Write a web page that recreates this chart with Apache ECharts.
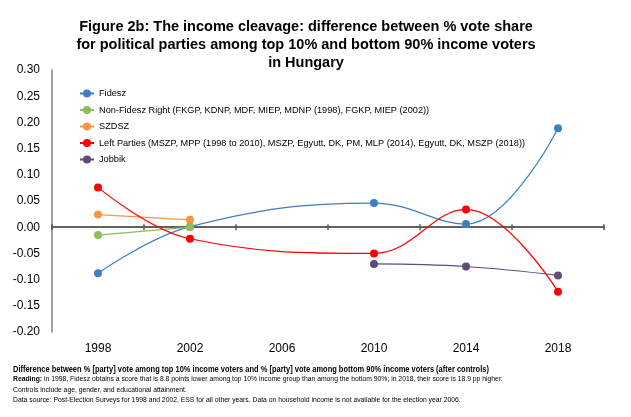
<!DOCTYPE html>
<html>
<head>
<meta charset="utf-8">
<script src="https://cdn.jsdelivr.net/npm/echarts@6/dist/echarts.min.js"></script>
<style>
  html, body { margin: 0; padding: 0; background: #fff; }
  #chart { width: 631px; height: 417px; }
</style>
</head>
<body>
<div id="chart"></div>
<script>
const years = ['1998', '2002', '2006', '2010', '2014', '2018'];

const fidesz = [-0.088, 0.001, null, 0.046, 0.006, 0.189];
const nonFideszRight = [-0.015, 0.0, null, null, null, null];
const szdsz = [0.024, 0.014, null, null, null, null];
const leftParties = [0.076, -0.022, null, -0.050, 0.034, -0.123];
const jobbik = [null, null, null, -0.070, -0.075, -0.092];

const seriesNames = [
  'Fidesz',
  'Non-Fidesz Right (FKGP, KDNP, MDF, MIEP, MDNP (1998), FGKP, MIEP (2002))',
  'SZDSZ',
  'Left Parties (MSZP, MPP (1998 to 2010), MSZP, Egyutt, DK, PM, MLP (2014), Egyutt, DK, MSZP (2018))',
  'Jobbik'
];
const seriesData = [fidesz, nonFideszRight, szdsz, leftParties, jobbik];
const colors = ['#3d7fc0', '#8dbd5c', '#f79646', '#ff0000', '#604a7b'];

const chart = echarts.init(document.getElementById('chart'));

const font = 'Liberation Sans, Arial, sans-serif';
const noteFont = '"Liberation Sans", Arial';
const gridBox = { left: 52, right: 27, top: 70, bottom: 85 };
const tickStyle = { color: '#595959', width: 1.5 };

const option = {
  animation: false,
  color: colors,
  textStyle: { fontFamily: font },
  title: {
    text: 'Figure 2b: The income cleavage: difference between % vote share\nfor political parties among top 10% and bottom 90% income voters\nin Hungary',
    left: 301,
    top: 13,
    textAlign: 'center',
    textStyle: {
      fontSize: 14.5,
      fontWeight: 'bold',
      color: '#000',
      lineHeight: 18,
      fontFamily: font
    }
  },
  legend: {
    orient: 'vertical',
    left: 79,
    top: 88,
    padding: 0,
    itemWidth: 14,
    itemHeight: 10,
    itemGap: 5.5,
    selectedMode: false,
    textStyle: { fontSize: 9.2, color: '#000', fontFamily: font, lineHeight: 11 },
    data: seriesNames
  },
  grid: [
    Object.assign({}, gridBox),
    Object.assign({}, gridBox)
  ],
  xAxis: [
    {
      // labels along the bottom
      type: 'category',
      data: years,
      position: 'bottom',
      axisLine: { show: false, onZero: false },
      axisTick: { show: false },
      axisLabel: { fontSize: 12, color: '#000', margin: 11, fontFamily: font }
    },
    {
      // zero line, ticks going down
      type: 'category',
      data: years,
      position: 'bottom',
      axisLine: { show: true, onZero: true, lineStyle: tickStyle },
      axisTick: { show: true, length: 3, lineStyle: tickStyle },
      axisLabel: { show: false }
    },
    {
      // zero line in the twin grid, ticks going up
      type: 'category',
      gridIndex: 1,
      data: years,
      position: 'bottom',
      axisLine: { show: true, onZero: true, lineStyle: tickStyle },
      axisTick: { show: true, inside: true, length: 3, lineStyle: tickStyle },
      axisLabel: { show: false }
    }
  ],
  yAxis: [
    {
      type: 'value',
      min: -0.2,
      max: 0.3,
      interval: 0.05,
      axisLine: { show: true, lineStyle: { color: '#808080', width: 1.5 } },
      axisTick: { show: false },
      splitLine: { show: false },
      axisLabel: {
        fontSize: 12,
        color: '#000',
        margin: 12,
        fontFamily: font,
        formatter: v => v.toFixed(2)
      }
    },
    {
      type: 'value',
      gridIndex: 1,
      min: -0.2,
      max: 0.3,
      interval: 0.05,
      axisLine: { show: false },
      axisTick: { show: false },
      splitLine: { show: false },
      axisLabel: { show: false }
    }
  ],
  series: seriesNames.map((name, i) => ({
    name: name,
    type: 'line',
    xAxisIndex: 1,
    yAxisIndex: 0,
    data: seriesData[i],
    smooth: 0.4,
    connectNulls: true,
    symbol: 'circle',
    symbolSize: 8,
    lineStyle: { width: 1.2, color: colors[i] },
    itemStyle: { color: colors[i] },
    z: i === 0 ? 2 : 3
  })),
  graphic: [
    {
      type: 'text',
      x: 13,
      y: 365,
      scaleX: 0.88,
      style: {
        text: 'Difference between % [party] vote among top 10% income voters and % [party] vote among bottom 90% income voters (after controls)',
        font: 'bold 8.5px ' + noteFont,
        fill: '#000'
      }
    },
    {
      type: 'text',
      x: 13,
      y: 376,
      style: {
        text: '{b|Reading:} in 1998, Fidesz obtains a score that is 8.8 points lower among top 10% income group than among the bottom 90%; in 2018, their score is 18.9 pp higher.',
        font: '6.8px ' + noteFont,
        fill: '#000',
        rich: {
          b: { font: 'bold 6.8px ' + noteFont, fill: '#000' }
        }
      }
    },
    {
      type: 'text',
      x: 13,
      y: 387,
      style: {
        text: 'Controls include age, gender, and educational attainment.',
        font: '6.8px ' + noteFont,
        fill: '#000'
      }
    },
    {
      type: 'text',
      x: 13,
      y: 397,
      style: {
        text: 'Data source: Post-Election Surveys for 1998 and 2002, ESS for all other years. Data on household income is not available for the election year 2006.',
        font: '6.8px ' + noteFont,
        fill: '#000'
      }
    }
  ]
};

chart.setOption(option);
</script>
</body>
</html>
